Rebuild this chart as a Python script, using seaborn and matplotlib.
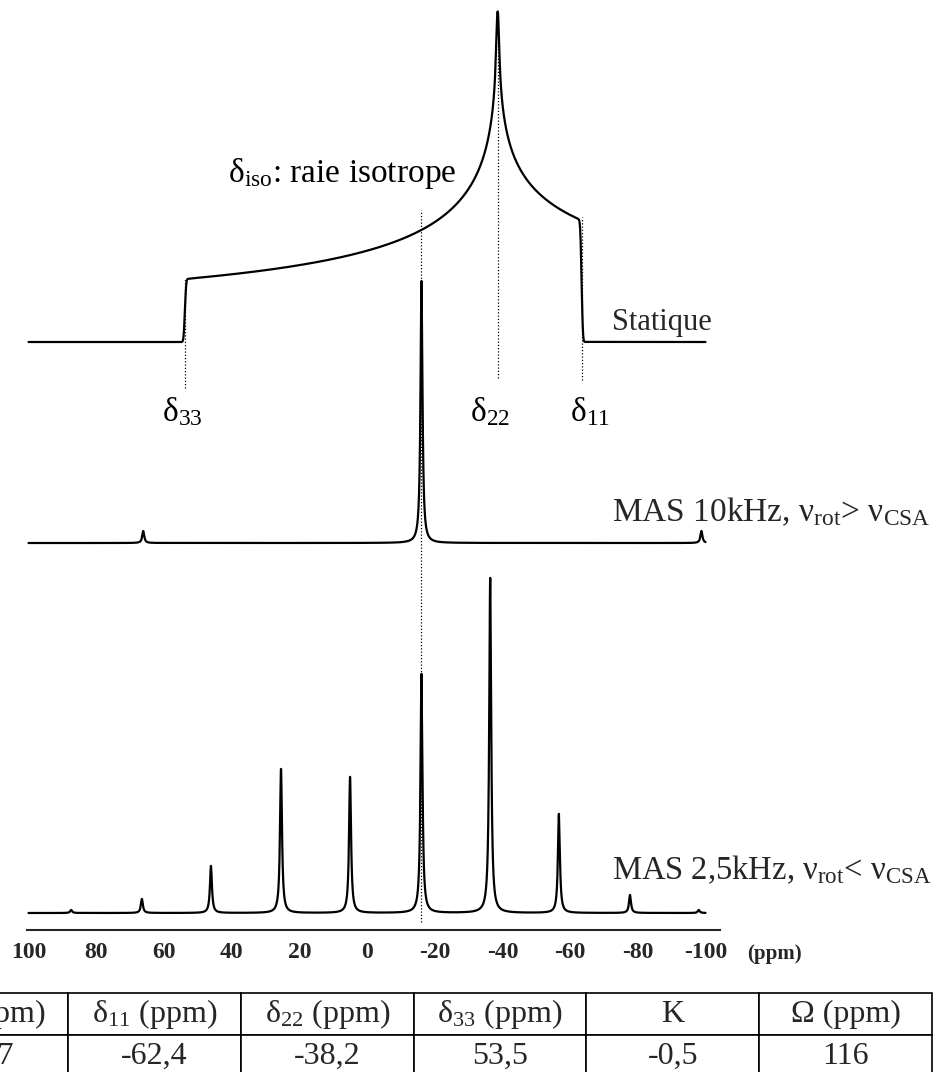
import numpy as np
import pandas as pd
import matplotlib
matplotlib.use("Agg")
import matplotlib.pyplot as plt
import seaborn as sns

sns.set_style("white")
plt.rcParams['font.family'] = ['Liberation Serif', 'DejaVu Serif']
plt.rcParams['mathtext.fontset'] = 'custom'
plt.rcParams['mathtext.rm'] = 'Liberation Serif'
plt.rcParams['mathtext.it'] = 'Liberation Serif:italic'
plt.rcParams['mathtext.bf'] = 'Liberation Serif:bold'

# ---- data ----------------------------------------------------------------
# static powder pattern edges (ppm): delta11, delta22, delta33
static_edges = [-63.4, -38.6, 53.8]
static_edge_height = 63          # height of the delta33 step

# MAS 10 kHz: isotropic line + sidebands
mas10_pos = [66.1, -16.1, -98.8]
mas10_height = [12, 262, 12]

# MAS 2.5 kHz: isotropic line + sidebands
mas25_pos = [87.4, 66.5, 46.1, 25.4, 5.0, -16.1, -36.4, -56.7, -77.7, -98.0]
mas25_height = [3, 14, 47, 144, 136, 239, 335, 99, 18, 3]

delta_iso_line = -16.1

tick_values = [100, 80, 60, 40, 20, 0, -20, -40, -60, -80, -100]
tick_labels = ['100', '80', '60', '40', '20', '0', '-20', '-40', '-60', '-80', '-100']

table_headers = [r'δ$_\mathrm{iso}$ (ppm)', r'δ$_{11}$ (ppm)', r'δ$_{22}$ (ppm)',
                 r'δ$_{33}$ (ppm)', 'K', 'Ω (ppm)']
table_values = ['-15,7', '-62,4', '-38,2', '53,5', '-0,5', '116']

# vertical offsets of the three traces
BASE_STATIC, BASE_MAS10, BASE_MAS25 = 588, 387, 17
LINE_HWHM = 0.35      # ppm, lorentzian half width of MAS lines
STATIC_SIGMA = 0.30   # ppm, gaussian broadening of static pattern


def ellipk(m):
    a = np.ones_like(m)
    b = np.sqrt(1.0 - m)
    for _ in range(40):
        a, b = (a + b) / 2.0, np.sqrt(a * b)
    return np.pi / (2.0 * a)


def powder_pattern(x, s1, s2, s3):
    out = np.zeros_like(x)
    left = (x > s1) & (x <= s2)
    right = (x > s2) & (x < s3)
    m = (x[left] - s1) * (s3 - s2) / ((s3 - x[left]) * (s2 - s1))
    m = np.clip(m, 0, 1 - 1e-4)
    out[left] = ellipk(m) / np.sqrt((s3 - x[left]) * (s2 - s1))
    m = (s3 - x[right]) * (s2 - s1) / ((x[right] - s1) * (s3 - s2))
    m = np.clip(m, 0, 1 - 1e-4)
    out[right] = ellipk(m) / np.sqrt((x[right] - s1) * (s3 - s2))
    return out


def lorentz_sum(x, pos, height, w):
    y = np.zeros_like(x)
    for p, h in zip(pos, height):
        y += h / (1 + ((x - p) / w) ** 2)
    return y


ppm = np.linspace(-100, 100, 20001)
step = ppm[1] - ppm[0]

s1, s2, s3 = sorted(static_edges)
raw = powder_pattern(ppm, s1, s2, s3)
k = np.arange(-5 * STATIC_SIGMA, 5 * STATIC_SIGMA + step, step)
kern = np.exp(-0.5 * (k / STATIC_SIGMA) ** 2)
static = np.convolve(raw, kern / kern.sum(), mode='same')
edge_val = (np.pi / 2) / np.sqrt((s3 - s1) * (s3 - s2))
static = BASE_STATIC + static * static_edge_height / edge_val

mas10 = BASE_MAS10 + lorentz_sum(ppm, mas10_pos, mas10_height, LINE_HWHM)
mas25 = BASE_MAS25 + lorentz_sum(ppm, mas25_pos, mas25_height, LINE_HWHM)

df = pd.concat([
    pd.DataFrame({'ppm': ppm, 'y': static, 'spectre': 'Statique'}),
    pd.DataFrame({'ppm': ppm, 'y': mas10, 'spectre': 'MAS 10kHz'}),
    pd.DataFrame({'ppm': ppm, 'y': mas25, 'spectre': 'MAS 2,5kHz'}),
])

# ---- figure --------------------------------------------------------------
W, H = 945, 1072
fig = plt.figure(figsize=(W / 100, H / 100), dpi=100)


def px2ppm(px):
    return (367 - px) / 3.385


ax = fig.add_axes([27 / W, (H - 930) / H, (720 - 27) / W, 930 / H])
ax.set_xlim(px2ppm(27), px2ppm(720))
ax.set_ylim(0, 930)

dot = dict(color='black', lw=0.9, linestyle=(0, (1, 1.6)), zorder=1)
ax.vlines(delta_iso_line, 8, 720, **dot)
ax.vlines(static_edges[1], 552, 918, **dot)
ax.vlines(static_edges[0], 550, 713, **dot)
ax.vlines(static_edges[2], 542, 651, **dot)

sns.lineplot(data=df, x='ppm', y='y', units='spectre', estimator=None, sort=False,
             color='black', linewidth=1.6, ax=ax, zorder=3, legend=False)

for side in ['left', 'right', 'top']:
    ax.spines[side].set_visible(False)
ax.spines['bottom'].set_linewidth(1.5)
ax.set_yticks([])
ax.set_xticks(tick_values)
ax.set_xticklabels(tick_labels, fontweight='bold', fontsize=17)
ax.tick_params(axis='x', direction='in', length=5, width=1.1, pad=9)
ax.set_xlabel('')
ax.set_ylabel('')
ax.text(px2ppm(747), -24, '(ppm)', fontsize=15, fontweight='bold', ha='left', va='center')

lab = dict(fontsize=24, ha='left', va='baseline', color='black')
ax.text(px2ppm(228), 930 - 182, r'δ$_\mathrm{iso}$: raie isotrope', **lab)
ax.text(px2ppm(612), 930 - 330, 'Statique', fontsize=22, ha='left', va='baseline')
ax.text(px2ppm(612), 930 - 521, r'MAS 10kHz, ν$_\mathrm{rot}$> ν$_\mathrm{CSA}$', fontsize=24,
        ha='left', va='baseline')
ax.text(px2ppm(612), 930 - 879, r'MAS 2,5kHz, ν$_\mathrm{rot}$< ν$_\mathrm{CSA}$', fontsize=23.5,
        ha='left', va='baseline')
ax.text(px2ppm(162), 930 - 421, r'δ$_{33}$', **lab)
ax.text(px2ppm(470), 930 - 421, r'δ$_{22}$', **lab)
ax.text(px2ppm(570), 930 - 421, r'δ$_{11}$', **lab)

# ---- parameter table -----------------------------------------------------
tab_ax = fig.add_axes([0, 0, 1, 1])
tab_ax.axis('off')
col_w = 172.8
x0 = 68 - col_w
tbl = tab_ax.table(cellText=[table_headers, table_values], cellLoc='center',
                   bbox=[x0 / W, (H - 1077) / H, 6 * col_w / W, 84 / H])
tbl.auto_set_font_size(False)
tbl.set_fontsize(23)
for cell in tbl.get_celld().values():
    cell.set_linewidth(1.2)
    cell.set_edgecolor('black')

fig.savefig('out.png', dpi=100)
